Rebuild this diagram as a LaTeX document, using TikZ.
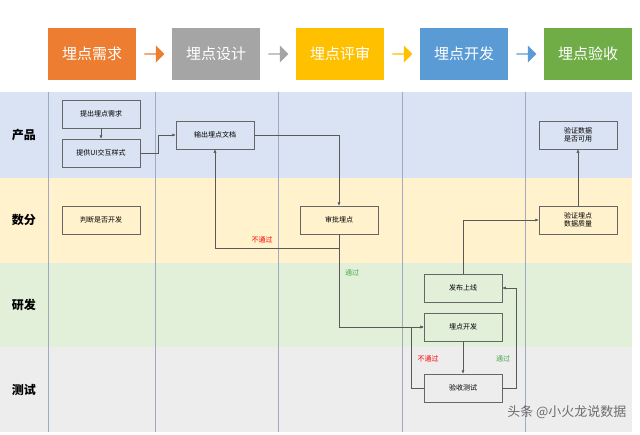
\documentclass[tikz,border=0pt]{standalone}
\usepackage{fontspec}
\setmainfont{Noto Sans CJK SC}
\usetikzlibrary{arrows.meta,shapes.arrows}
\definecolor{c1}{HTML}{ED7D31}\definecolor{c2}{HTML}{A5A5A5}\definecolor{c3}{HTML}{FFC000}
\definecolor{c4}{HTML}{5B9BD5}\definecolor{c5}{HTML}{70AD47}
\definecolor{l1}{HTML}{DAE3F3}\definecolor{l2}{HTML}{FFF2CC}\definecolor{l3}{HTML}{E2F0D9}\definecolor{l4}{HTML}{EDEDED}
\definecolor{vl}{HTML}{A0AAC0}
\tikzset{
 hdr/.style={minimum width=88pt,minimum height=52pt,text=white,font=\fontsize{15}{15}\selectfont},
 box/.style={draw=gray!80!black,line width=0.5pt,minimum width=78pt,minimum height=28pt,font=\fontsize{7}{8.5}\selectfont,align=center},
 lane/.style={font=\bfseries\fontsize{12}{12}\selectfont},
 harrow/.style={single arrow,minimum width=17pt,single arrow head extend=3pt,minimum height=20pt,inner sep=0pt},
 conn/.style={draw=gray!70!black,line width=0.5pt,-{Latex[length=3.5pt,width=3pt]}},
 pass/.style={text=green!50!black!70!white,font=\fontsize{7}{7}\selectfont},
 fail/.style={text=red,font=\fontsize{7}{7}\selectfont}
}
\begin{document}
\begin{tikzpicture}[x=1pt,y=-1pt]
\useasboundingbox[fill=white] (0,0) rectangle (640,434);
\fill[l1] (0,92) rectangle (632,178);
\fill[l2] (0,178) rectangle (632,263);
\fill[l3] (0,263) rectangle (632,347);
\fill[l4] (0,347) rectangle (632,432);
\foreach \x in {48,155,278,402,525} \draw[vl,line width=0.6pt] (\x,92) -- (\x,432);
\node[lane] (L1) at (24,135) {产品};
\node[lane] (L2) at (24,220) {数分};
\node[lane] (L3) at (24,305) {研发};
\node[lane] (L4) at (24,390) {测试};
\node[hdr,fill=c1] (H1) at (92,54) {埋点需求};
\node[hdr,fill=c2] (H2) at (216,54) {埋点设计};
\node[hdr,fill=c3] (H3) at (340,54) {埋点评审};
\node[hdr,fill=c4] (H4) at (464,54) {埋点开发};
\node[hdr,fill=c5] (H5) at (588,54) {埋点验收};
\node[harrow,fill=c1] (A1) at (154,54) {};
\node[harrow,fill=c2] (A2) at (278,54) {};
\node[harrow,fill=c3] (A3) at (402,54) {};
\node[harrow,fill=c4] (A4) at (526,54) {};
\node[box] (n1) at (101,114) {提出埋点需求};
\node[box] (n2) at (101,153) {提供UI交互样式};
\node[box] (n3) at (215,135) {输出埋点文档};
\node[box] (n4) at (101,220) {判断是否开发};
\node[box] (n5) at (339,220) {审批埋点};
\node[box] (n6) at (578,135) {验证数据\\是否可用};
\node[box] (n7) at (578,220) {验证埋点\\数据质量};
\node[box] (n8) at (463,288) {发布上线};
\node[box] (n9) at (463,327) {埋点开发};
\node[box] (n10) at (463,388) {验收测试};
\draw[conn] (n1) -- (n2);
\draw[conn] (n2.east) -- ++(18,0) |- (n3.west);
\draw[conn] (n3.east) -| (n5.north);
\draw[conn] (n5.south) |- (215,248) -- (n3.south);
\draw[conn] (n5.south) |- (n9.west);
\draw[conn] (n9) -- (n10);
\draw[conn] (n10.west) -- ++(-13,0) |- (n9.west);
\draw[conn] (n10.east) -- ++(14,0) |- (n8.east);
\draw[conn] (n8.north) |- (n7.west);
\draw[conn] (n7) -- (n6);
\node[fail] (f1) at (262,240) {不通过};
\node[pass] (p1) at (352,273) {通过};
\node[fail] (f2) at (428,359) {不通过};
\node[pass] (p2) at (503,359) {通过};
\node[text=gray!85!black,font=\fontsize{13}{13}\selectfont,anchor=east] (wm) at (630,412) {头条 @小火龙说数据};
\end{tikzpicture}
\end{document}
